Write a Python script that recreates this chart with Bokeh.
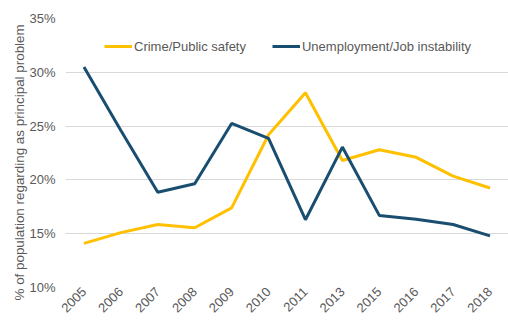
import math
from bokeh.plotting import figure
from bokeh.models import FactorRange, Range1d, FixedTicker, PrintfTickFormatter, Legend, LegendItem, Title
from bokeh.embed import file_html
from bokeh.resources import INLINE

years = ["2005", "2006", "2007", "2008", "2009", "2010", "2011", "2013", "2015", "2016", "2017", "2018"]
crime = [14.1, 15.1, 15.85, 15.55, 17.4, 24.2, 28.1, 21.8, 22.8, 22.1, 20.35, 19.25]
unemployment = [30.5, 24.6, 18.85, 19.65, 25.25, 23.85, 16.3, 23.05, 16.7, 16.35, 15.85, 14.8]
y_ticks = [10, 15, 20, 25, 30, 35]
y_title = "% of population regarding as principal problem"

FONT = "Liberation Sans"
GRAY = "#595959"

p = figure(width=508, height=322, x_range=FactorRange(*years), y_range=Range1d(10, 35),
           output_backend="svg", toolbar_location=None,
           min_border_left=65, min_border_right=0, min_border_top=18, min_border_bottom=35)
p.outline_line_color = None
p.background_fill_color = "white"

r1 = p.line(years, crime, line_color="#FFC000", line_width=3)
r2 = p.line(years, unemployment, line_color="#1A4E70", line_width=3)

p.xgrid.grid_line_color = None
p.ygrid.grid_line_color = "#D9D9D9"
p.ygrid.grid_line_width = 1

p.yaxis.ticker = FixedTicker(ticks=y_ticks)
p.yaxis.formatter = PrintfTickFormatter(format="%d%%")
for ax in (p.xaxis[0], p.yaxis[0]):
    ax.axis_line_color = None
    ax.major_tick_line_color = None
    ax.minor_tick_line_color = None
    ax.major_tick_in = 0
    ax.major_tick_out = 0
    ax.minor_tick_in = 0
    ax.minor_tick_out = 0
    ax.major_label_text_font = FONT
    ax.major_label_text_font_size = "13px"
    ax.major_label_text_color = GRAY
p.xaxis.major_label_orientation = math.pi / 4
p.xaxis.major_label_standoff = 2
p.yaxis.major_label_standoff = 10

t = Title(text=y_title, align="left", offset=-13, standoff=0,
          text_font=FONT, text_font_size="13.4px", text_font_style="normal", text_color=GRAY)
p.add_layout(t, "left")

legend = Legend(items=[LegendItem(label="Crime/Public safety", renderers=[r1]),
                       LegendItem(label="Unemployment/Job instability", renderers=[r2])],
                orientation="horizontal", location=(39, 231))
legend.border_line_color = None
legend.background_fill_alpha = 0
legend.padding = 0
legend.margin = 0
legend.spacing = 26
legend.label_standoff = 2
legend.glyph_width = 28
legend.label_text_font = FONT
legend.label_text_font_size = "13px"
legend.label_text_color = GRAY
p.add_layout(legend, "center")

open("out.html", "w").write(file_html(p, INLINE))
